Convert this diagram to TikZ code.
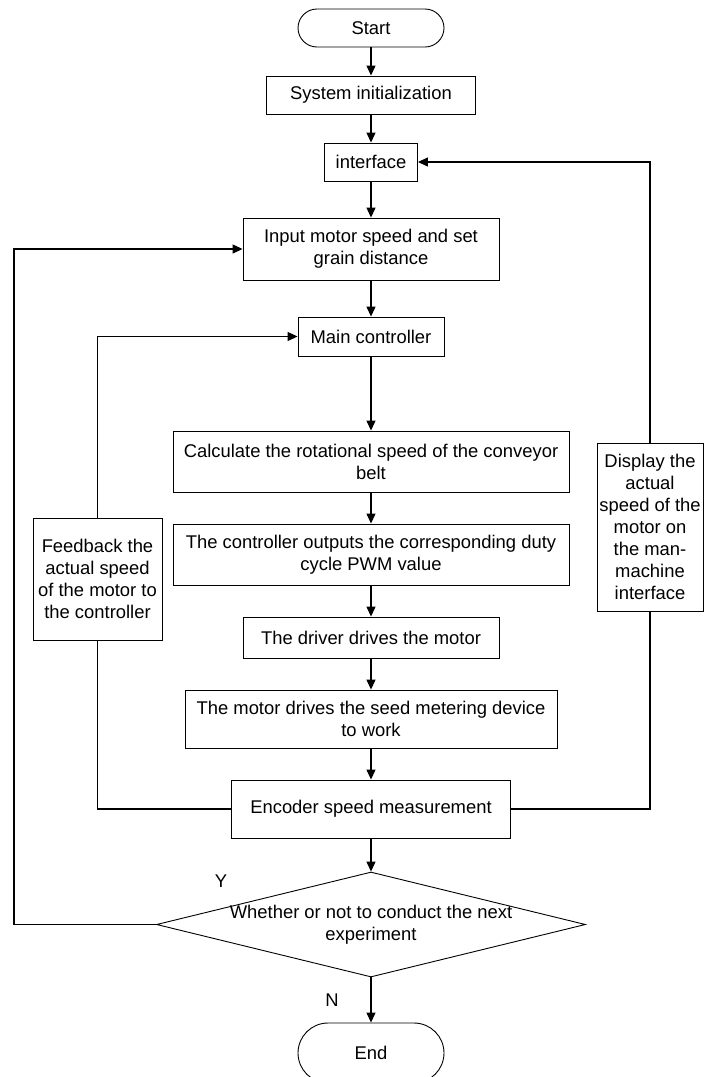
\documentclass[tikz,border=0pt]{standalone}
\usepackage{fontspec}
\setmainfont{Liberation Sans}
\usetikzlibrary{arrows.meta,shapes.geometric}
\begin{document}
\begin{tikzpicture}[x=1pt,y=-1pt,
  every node/.style={font=\fontsize{18.4}{22}\selectfont},
  box/.style={draw, line width=0.9pt, inner sep=0pt, align=center},
  term/.style={box},
  flow/.style={line width=1.2pt, -{Triangle[length=10pt,width=9pt]}},
  link/.style={line width=1.2pt}]
\useasboundingbox (0,0) rectangle (704,1077);
% main column
\node[term, rounded corners=19pt, minimum width=146pt, minimum height=38pt] (start) at (371,28) {Start};
\node[box, minimum width=209pt, minimum height=38pt] (init) at (371,95) {System initialization};
\node[box, minimum width=93pt, minimum height=38pt] (iface) at (371,162) {interface};
\node[box, minimum width=256pt, minimum height=62pt] (input) at (371,249) {Input motor speed and set\\grain distance};
\node[box, minimum width=146pt, minimum height=39pt] (mainc) at (371,336.5) {Main controller};
\node[box, minimum width=396pt, minimum height=61pt] (calc) at (371,461.5) {Calculate the rotational speed of the conveyor\\belt};
\node[box, minimum width=396pt, minimum height=61pt] (ctrl) at (371,554.5) {The controller outputs the corresponding duty\\cycle PWM value};
\node[box, minimum width=256pt, minimum height=41pt] (driver) at (371,637.5) {The driver drives the motor};
\node[box, minimum width=372pt, minimum height=58pt] (motor) at (371,719) {The motor drives the seed metering device\\to work};
\node[box, minimum width=279pt, minimum height=58pt] (enc) at (371,809) {Encoder speed measurement};
\node[diamond, draw, line width=0.9pt, inner sep=0pt, minimum width=429pt, minimum height=105pt] (dec) at (371,924.5) {};
\node[align=center, inner sep=0pt] (dectext) at (371,925) {Whether or not to conduct the next\\experiment};
\node[term, rounded corners=30pt, minimum width=146pt, minimum height=60pt] (end) at (371,1053) {End};
% side boxes
\node[box, minimum width=129pt, minimum height=122pt] (fb) at (97.5,579) {Feedback the\\actual speed\\of the motor to\\the controller};
\node[box, minimum width=106pt, minimum height=168pt] (disp) at (650,527) {Display the\\actual\\speed of the\\motor on\\the man-\\machine\\interface};
% labels
\node (ylab) at (221,881) {Y};
\node (nlab) at (332,1000) {N};
\coordinate (lx) at (14,0);
% connectors
\draw[flow] (start) -- (init);
\draw[flow] (init) -- (iface);
\draw[flow] (iface) -- (input);
\draw[flow] (input) -- (mainc);
\draw[flow] (mainc) -- (calc);
\draw[flow] (calc) -- (ctrl);
\draw[flow] (ctrl) -- (driver);
\draw[flow] (driver) -- (motor);
\draw[flow] (motor) -- (enc);
\draw[flow] (enc) -- (dec);
\draw[flow] (dec) -- (end);
\draw[flow] (dec.west) -- (dec.west -| lx) |- (input.west);
\draw[link] (enc.west) -| (fb.south);
\draw[flow] (fb.north) |- (mainc.west);
\draw[link] (enc.east) -| (disp.south);
\draw[flow] (disp.north) |- (iface.east);
\end{tikzpicture}
\end{document}
